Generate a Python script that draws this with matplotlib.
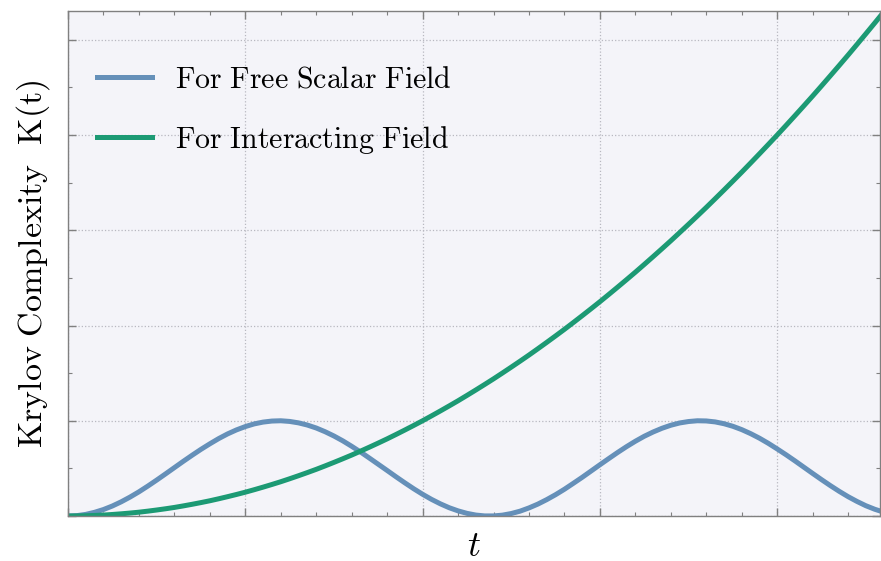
import matplotlib
matplotlib.use("Agg")
import matplotlib.pyplot as plt
from matplotlib.ticker import MultipleLocator, NullFormatter

# values (t in grid units, K in grid units)
t = [0.00, 0.05, 0.10, 0.15, 0.20, 0.25, 0.30, 0.35, 0.40, 0.45,
     0.50, 0.55, 0.60, 0.65, 0.70, 0.75, 0.80, 0.85, 0.90, 0.95,
     1.00, 1.05, 1.10, 1.15, 1.20, 1.25, 1.30, 1.35, 1.40, 1.45,
     1.50, 1.55, 1.60, 1.65, 1.70, 1.75, 1.80, 1.85, 1.90, 1.95,
     2.00, 2.05, 2.10, 2.15, 2.20, 2.25, 2.30, 2.35, 2.40, 2.45,
     2.50, 2.55, 2.60, 2.65, 2.70, 2.75, 2.80, 2.85, 2.90, 2.95,
     3.00, 3.05, 3.10, 3.15, 3.20, 3.25, 3.30, 3.35, 3.40, 3.45,
     3.50, 3.55, 3.60, 3.65, 3.70, 3.75, 3.80, 3.85, 3.90, 3.95,
     4.00, 4.05, 4.10, 4.15, 4.20, 4.25, 4.30, 4.35, 4.40, 4.45,
     4.50, 4.55, 4.60]

k_free = [0.000, 0.004, 0.017, 0.039, 0.068, 0.105, 0.149, 0.199, 0.254, 0.314,
          0.377, 0.442, 0.508, 0.574, 0.638, 0.700, 0.758, 0.813, 0.862, 0.904,
          0.939, 0.967, 0.986, 0.997, 1.000, 0.993, 0.978, 0.955, 0.924, 0.885,
          0.840, 0.789, 0.732, 0.672, 0.608, 0.543, 0.478, 0.412, 0.348, 0.286,
          0.228, 0.175, 0.128, 0.087, 0.054, 0.028, 0.010, 0.001, 0.001, 0.009,
          0.026, 0.051, 0.085, 0.125, 0.172, 0.224, 0.281, 0.343, 0.406, 0.472,
          0.538, 0.603, 0.667, 0.728, 0.785, 0.837, 0.882, 0.921, 0.953, 0.977,
          0.992, 1.000, 0.998, 0.988, 0.969, 0.942, 0.907, 0.865, 0.817, 0.763,
          0.704, 0.643, 0.579, 0.513, 0.447, 0.382, 0.319, 0.259, 0.203, 0.153,
          0.108, 0.071, 0.041]

k_int = [0.000, 0.001, 0.003, 0.006, 0.010, 0.016, 0.023, 0.031, 0.040, 0.051,
         0.063, 0.076, 0.090, 0.106, 0.123, 0.141, 0.160, 0.181, 0.203, 0.226,
         0.250, 0.276, 0.303, 0.331, 0.360, 0.391, 0.423, 0.456, 0.490, 0.526,
         0.563, 0.601, 0.640, 0.681, 0.723, 0.766, 0.810, 0.856, 0.903, 0.951,
         1.000, 1.051, 1.103, 1.156, 1.210, 1.266, 1.323, 1.381, 1.440, 1.501,
         1.563, 1.626, 1.690, 1.756, 1.823, 1.891, 1.960, 2.031, 2.103, 2.176,
         2.250, 2.326, 2.403, 2.481, 2.560, 2.641, 2.723, 2.806, 2.890, 2.976,
         3.063, 3.151, 3.240, 3.331, 3.423, 3.516, 3.610, 3.706, 3.803, 3.901,
         4.000, 4.101, 4.203, 4.306, 4.410, 4.516, 4.623, 4.731, 4.840, 4.951,
         5.063, 5.176, 5.290]

labels = [r"$\mathrm{For\ Free\ Scalar\ Field}$",
          r"$\mathrm{For\ Interacting\ Field}$"]

plt.rcParams["mathtext.fontset"] = "cm"

fig = plt.figure(figsize=(8.81, 5.61), dpi=100)
ax = fig.add_axes([0.0772, 0.0802, 0.9217, 0.8998])
ax.set_facecolor("#f4f4f9")

ax.plot(t, k_free, color="#6590b9", lw=3.6, label=labels[0])
ax.plot(t, k_int, color="#1c9a74", lw=3.6, label=labels[1])

ax.set_xlim(0, 4.58)
ax.set_ylim(0, 5.30)

ax.xaxis.set_major_locator(MultipleLocator(1.0))
ax.xaxis.set_minor_locator(MultipleLocator(0.2))
ax.yaxis.set_major_locator(MultipleLocator(1.0))
ax.yaxis.set_minor_locator(MultipleLocator(0.5))
ax.xaxis.set_major_formatter(NullFormatter())
ax.yaxis.set_major_formatter(NullFormatter())
ax.tick_params(which="both", direction="in", top=True, right=True, colors="#808080")
ax.tick_params(which="major", length=6, width=1.0)
ax.tick_params(which="minor", length=3, width=0.8)

ax.grid(True, which="major", linestyle=":", color="#b8b8c0", lw=0.9)
for s in ax.spines.values():
    s.set_color("#808080")
    s.set_linewidth(1.0)

ax.set_xlabel(r"$t$", fontsize=26, labelpad=6)
ax.set_ylabel(r"$\mathrm{Krylov\ Complexity\ \ K(t)}$", fontsize=24.5, labelpad=8)

ax.legend(loc="upper left", bbox_to_anchor=(0.021, 0.919), borderaxespad=0,
          fontsize=21.5, frameon=False, handlelength=1.84,
          labelspacing=1.02, handletextpad=0.77)

fig.savefig("out.png", dpi=100)
